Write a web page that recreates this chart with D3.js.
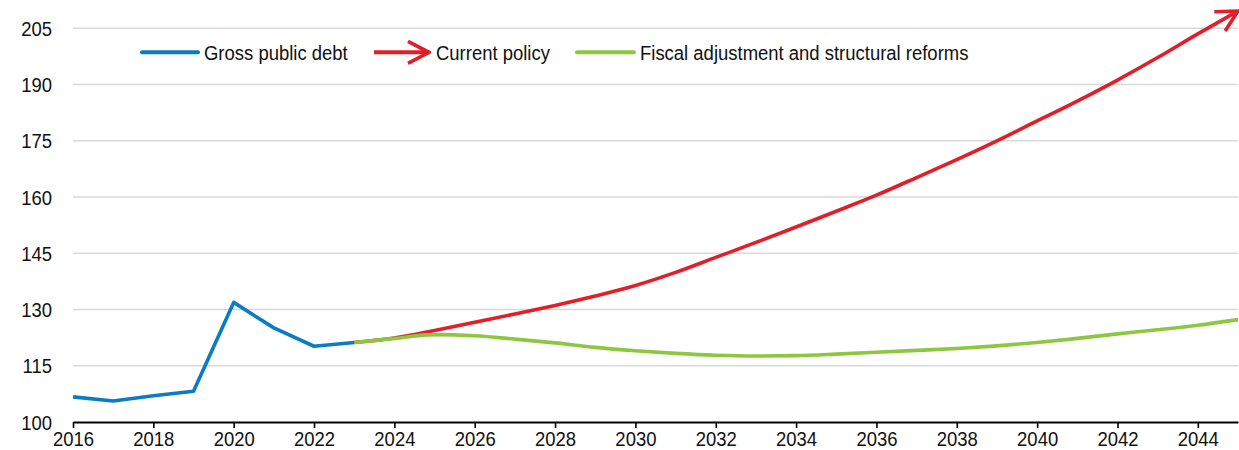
<!DOCTYPE html>
<html>
<head>
<meta charset="utf-8">
<script src="https://cdn.jsdelivr.net/npm/d3@7"></script>
<style>
  html, body { margin: 0; padding: 0; background: #fff; }
  svg { display: block; }
  text { font-family: "Liberation Sans Narrow", "Arial Narrow", "Liberation Sans", Arial, sans-serif; fill: #111; }
</style>
</head>
<body>
<svg id="chart" width="1239" height="450"></svg>
<script>
// Gross public debt, percent of GDP
const histYears = [2016, 2017, 2018, 2019, 2020, 2021, 2022, 2023];
const grossDebt = [106.7, 105.6, 107.0, 108.2, 131.9, 125.1, 120.2, 121.2];

// Projection scenarios
const projYears = [2023, 2024, 2025, 2026, 2027, 2028, 2029, 2030, 2031, 2032, 2033, 2034,
                   2035, 2036, 2037, 2038, 2039, 2040, 2041, 2042, 2043, 2044, 2045];
const currentPolicy = [121.2, 122.4, 124.4, 126.6, 128.8, 131.1, 133.6, 136.4, 139.9, 143.9, 147.9, 152.0,
                       156.2, 160.5, 165.2, 170.0, 175.0, 180.3, 185.6, 191.2, 197.2, 203.5, 209.6];
const fiscalAdjustment = [121.2, 122.3, 123.3, 123.0, 122.1, 121.1, 119.9, 119.0, 118.3, 117.8, 117.6, 117.7,
                          118.1, 118.6, 119.1, 119.6, 120.3, 121.2, 122.3, 123.5, 124.6, 125.8, 127.3];

const yTicks = [100, 115, 130, 145, 160, 175, 190, 205];
const xTicks = [2016, 2018, 2020, 2022, 2024, 2026, 2028, 2030, 2032, 2034, 2036, 2038, 2040, 2042, 2044];

const legendItems = ["Gross public debt", "Current policy", "Fiscal adjustment and structural reforms"];

const colors = { debt: "#0a7cc3", current: "#e11f28", fiscal: "#8dc63f" };

// Condensed lettering: horizontal squeeze applied to every label
const squeeze = 0.88;

const svg = d3.select("#chart");
const x = d3.scaleLinear().domain([2016, 2045]).range([73, 1238]);
const y = d3.scaleLinear().domain([100, 205]).range([422, 28.3]);

// Arrowhead (open chevron) for the current policy path
const defs = svg.append("defs");
defs.append("marker")
  .attr("id", "chevron")
  .attr("markerUnits", "userSpaceOnUse")
  .attr("viewBox", "-26 -14 28 28")
  .attr("markerWidth", 28).attr("markerHeight", 28)
  .attr("refX", 0).attr("refY", 0)
  .attr("orient", "auto")
  .append("path")
  .attr("d", "M-21,-11L0,0L-21,11")
  .attr("fill", "none")
  .attr("stroke", colors.current)
  .attr("stroke-width", 3.6)
  .attr("stroke-linejoin", "miter");

// Horizontal gridlines
svg.append("g").selectAll("line")
  .data(yTicks.filter(d => d > 100))
  .join("line")
  .attr("x1", x(2016)).attr("x2", x(2045))
  .attr("y1", d => y(d)).attr("y2", d => y(d))
  .attr("stroke", "#d9d9d9").attr("stroke-width", 1.6);

// Y tick labels
svg.append("g").selectAll("text")
  .data(yTicks)
  .join("text")
  .attr("transform", d => `translate(52,${y(d)}) scale(${squeeze},1)`)
  .attr("dy", "0.36em")
  .attr("text-anchor", "end")
  .attr("font-size", 21)
  .text(d => d);

// X axis
const xAxis = d3.axisBottom(x)
  .tickValues(xTicks)
  .tickFormat(d3.format("d"))
  .tickSize(6)
  .tickSizeOuter(0);
const gx = svg.append("g").attr("transform", `translate(0,${y(100)})`).call(xAxis);
gx.select(".domain").attr("stroke", "#000").attr("stroke-width", 2);
gx.selectAll(".tick line").attr("stroke", "#000").attr("stroke-width", 1.6);
gx.selectAll(".tick text")
  .attr("font-size", 21)
  .attr("font-family", null)
  .attr("fill", "#111")
  .attr("y", null).attr("dy", "0.71em")
  .attr("transform", `translate(0,9) scale(${squeeze},1)`);

// Lines
const straight = d3.line().x(d => x(d[0])).y(d => y(d[1]));
const smooth = d3.line().x(d => x(d[0])).y(d => y(d[1])).curve(d3.curveMonotoneX);

svg.append("path")
  .datum(d3.zip(histYears, grossDebt))
  .attr("d", straight)
  .attr("fill", "none").attr("stroke", colors.debt)
  .attr("stroke-width", 3.6).attr("stroke-linejoin", "round");

svg.append("path")
  .datum(d3.zip(projYears, currentPolicy))
  .attr("d", smooth)
  .attr("fill", "none").attr("stroke", colors.current)
  .attr("stroke-width", 3.6)
  .attr("marker-end", "url(#chevron)");

svg.append("path")
  .datum(d3.zip(projYears, fiscalAdjustment))
  .attr("d", smooth)
  .attr("fill", "none").attr("stroke", colors.fiscal)
  .attr("stroke-width", 3.6);

// Legend
const legend = svg.append("g").attr("class", "legend");
const legendY = 52.3;
const entries = [
  { label: legendItems[0], color: colors.debt, x1: 142, x2: 198, tx: 204, arrow: false },
  { label: legendItems[1], color: colors.current, x1: 374, x2: 429, tx: 436, arrow: true },
  { label: legendItems[2], color: colors.fiscal, x1: 577, x2: 634, tx: 640, arrow: false }
];
entries.forEach(e => {
  const ln = legend.append("line")
    .attr("x1", e.x1).attr("x2", e.x2)
    .attr("y1", legendY).attr("y2", legendY)
    .attr("stroke", e.color).attr("stroke-width", 4)
    .attr("stroke-linecap", e.arrow ? "butt" : "round");
  if (e.arrow) ln.attr("marker-end", "url(#chevron)");
  legend.append("text")
    .attr("transform", `translate(${e.tx},${legendY}) scale(${squeeze},1)`)
    .attr("dy", "0.36em")
    .attr("font-size", 21)
    .text(e.label);
});
</script>
</body>
</html>
